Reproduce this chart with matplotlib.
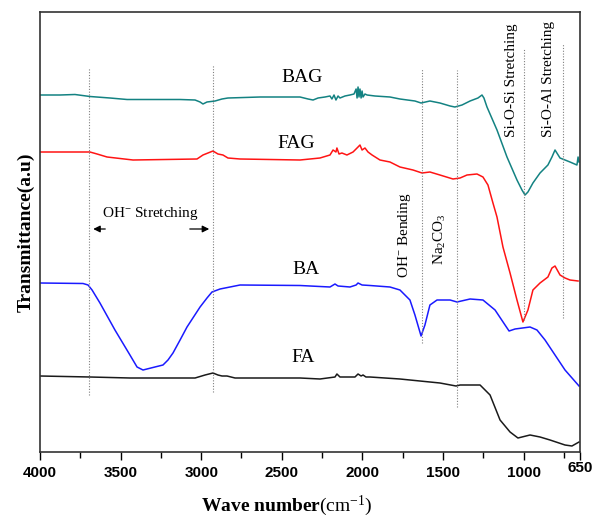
import matplotlib
matplotlib.use("Agg")
import matplotlib.pyplot as plt
from matplotlib.transforms import ScaledTranslation

plt.rcParams["font.family"] = ["Liberation Serif", "DejaVu Serif"]
plt.rcParams["mathtext.fontset"] = "custom"
plt.rcParams["mathtext.rm"] = "Liberation Serif"
plt.rcParams["mathtext.it"] = "Liberation Serif:italic"
plt.rcParams["mathtext.bf"] = "Liberation Serif:bold"

# ---- spectra (wavenumber in cm-1, transmittance in arbitrary offset units) ----
bag_wn = [4000, 3876, 3783, 3690, 3566, 3460, 3131, 3038, 3007, 2989, 2964, 2914, 2871, 2834,
          2635, 2387, 2337, 2306, 2275, 2232, 2201, 2189, 2176, 2164, 2151, 2139, 2108, 2077,
          2052, 2039, 2033, 2027, 2021, 2015, 2008, 2002, 1996, 1984, 1971, 1922, 1829, 1767,
          1674, 1636, 1581, 1519, 1456, 1426, 1382, 1332, 1283, 1258, 1246, 1227, 1165, 1103,
          1041, 1010, 991, 973, 942, 898, 849, 824, 805, 774, 743, 712, 669, 662, 656]
bag_y = [357, 357, 357.5, 355.5, 354, 352.5, 352.5, 352, 350, 348, 350, 351, 353, 354,
         355, 355, 353, 352, 354, 355, 356, 353, 357, 352, 356, 354, 356, 357,
         358, 363, 354, 365, 355, 363, 354, 361, 355, 358, 357, 356, 355, 353,
         351, 349, 351, 349, 346, 345, 347, 351, 354, 357, 354, 345, 322, 295,
         272, 262, 257, 260, 269, 279, 287, 295, 302, 294, 292, 290, 287, 295, 290]

fag_wn = [4000, 3690, 3646, 3584, 3423, 3026, 2989, 2958, 2927, 2896, 2865, 2834, 2759,
          2387, 2263, 2201, 2182, 2164, 2158, 2145, 2127, 2096, 2058, 2027, 2015, 2002,
          1984, 1965, 1940, 1891, 1829, 1767, 1686, 1630, 1581, 1519, 1438, 1394, 1351,
          1289, 1252, 1221, 1190, 1165, 1128, 1084, 1041, 1004, 973, 942, 898, 849, 824,
          805, 774, 743, 712, 662]
fag_y = [300, 300, 298, 295, 292, 293, 297, 299, 301, 298, 297, 294, 293,
         292, 294, 297, 302, 300, 304, 298, 299, 297, 300, 305, 307, 302,
         304, 300, 297, 292, 290, 285, 282, 279, 280, 277, 273, 274, 277,
         278, 275, 267, 249, 235, 205, 179, 152, 130, 142, 162, 169, 175, 184,
         186, 177, 174, 172, 171]

ba_wn = [4000, 3733, 3702, 3677, 3628, 3535, 3442, 3398, 3361, 3287, 3237, 3206, 3175,
         3131, 3088, 3007, 2964, 2933, 2883, 2759, 2387, 2201, 2170, 2151, 2077, 2039,
         2027, 2002, 1953, 1829, 1767, 1705, 1674, 1636, 1612, 1581, 1537, 1456, 1413,
         1332, 1252, 1177, 1115, 1090, 1053, 960, 917, 867, 805, 743, 656]
ba_y = [169, 168.5, 167, 162, 149, 122, 97, 85, 82, 85, 87, 92, 99,
        112, 125, 145, 154, 160, 163, 167, 166.5, 165, 168, 166, 165, 167,
        169, 167, 166.5, 165, 162, 152, 137, 116, 127, 147, 152, 152, 150,
        153, 152, 142, 127, 121, 123, 125, 122, 112, 97, 82, 66]

fa_wn = [4000, 3690, 3442, 3038, 2976, 2927, 2896, 2871, 2840, 2790, 2387, 2263, 2170,
         2158, 2139, 2046, 2027, 2008, 1996, 1978, 1953, 1767, 1519, 1419, 1394, 1270,
         1208, 1146, 1084, 1035, 960, 898, 836, 743, 700, 656]
fa_y = [76, 75, 74, 74, 77, 79, 77, 76, 76, 74, 74, 73, 75,
        78, 75, 75, 78, 76, 77, 75, 75, 73, 69, 66, 67, 67,
        57, 32, 20, 14, 17, 15, 12, 7, 6, 10]

# ---- band markers: wavenumber, bottom, top ----
band_wn = [3693, 2929, 1632, 1411, 996, 754]
band_lo = [57, 60, 109, 45, 132, 134]
band_hi = [384, 387, 384, 382, 404, 409]

series_names = ["BAG", "FAG", "BA", "FA"]
series_colors = ["#138282", "#ff1414", "#1a1aff", "#1a1a1a"]
label_pos = [(2375, 374), (2412, 308), (2350, 182), (2368, 94)]

fig = plt.figure(figsize=(5.95, 5.20), dpi=100)
ax = fig.add_axes([40 / 595, 1 - 452 / 520, 540 / 595, 440 / 520])

for wn, y, c in zip([bag_wn, fag_wn, ba_wn, fa_wn], [bag_y, fag_y, ba_y, fa_y], series_colors):
    ax.plot(wn, y, color=c, linewidth=1.1)

for name, (lx, ly) in zip(series_names, label_pos):
    ax.text(lx, ly, name, fontsize=14, ha="center", va="center")

for x, lo, hi in zip(band_wn, band_lo, band_hi):
    ax.plot([x, x], [lo, hi], color="#808080", linestyle=(0, (1, 1.5)), linewidth=0.8)

# band annotations
ax.text(3318, 239, "OH$^{-}$ Stretching", fontsize=11, ha="center", va="center")
ax.annotate("", xy=(3687, 223), xytext=(3578, 223),
            arrowprops=dict(arrowstyle="-|>", color="black", lw=0.9, mutation_scale=10))
ax.annotate("", xy=(2933, 223), xytext=(3088, 223),
            arrowprops=dict(arrowstyle="-|>", color="black", lw=0.9, mutation_scale=10))
ax.text(1736, 174, "OH$^{-}$ Bending", fontsize=11, rotation=90, ha="center", va="bottom")
ax.text(1519, 187, "Na$_2$CO$_3$", fontsize=11, rotation=90, ha="center", va="bottom")
ax.text(1072, 315, "Si-O-Si Stretching", fontsize=11, rotation=90, ha="center", va="bottom")
ax.text(848, 315, "Si-O-Al Stretching", fontsize=11, rotation=90, ha="center", va="bottom")

ax.set_xlim(4000, 650)
ax.set_ylim(0, 440)
ax.set_yticks([])

ax.set_xticks([4000, 3500, 3000, 2500, 2000, 1500, 1000, 650])
ax.set_xticks([3750, 3250, 2750, 2250, 1750, 1250, 750], minor=True)
ax.set_xticklabels(["4000", "3500", "3000", "2500", "2000", "1500", "1000", "650"],
                   fontfamily="Liberation Sans", fontweight="bold", fontsize=11)
ax.tick_params(axis="x", which="major", direction="out", length=6, width=1, pad=4)
ax.tick_params(axis="x", which="minor", direction="out", length=4, width=1)
lab650 = ax.get_xticklabels()[-1]
lab650.set_transform(lab650.get_transform() + ScaledTranslation(0, 5 / 100, fig.dpi_scale_trans))

for s in ax.spines.values():
    s.set_linewidth(1.2)
    s.set_color("#333333")

ax.set_xlabel(r"$\mathbf{Wave\ number}$(cm$^{\mathrm{-1}}$)", fontsize=14, labelpad=6)
ax.xaxis.set_label_coords((287 - 40) / 540, -0.095)
ax.set_ylabel("Transmittance(a.u)", fontsize=14, fontweight="bold", labelpad=4)

fig.savefig("out.png", dpi=100)
plt.close(fig)
